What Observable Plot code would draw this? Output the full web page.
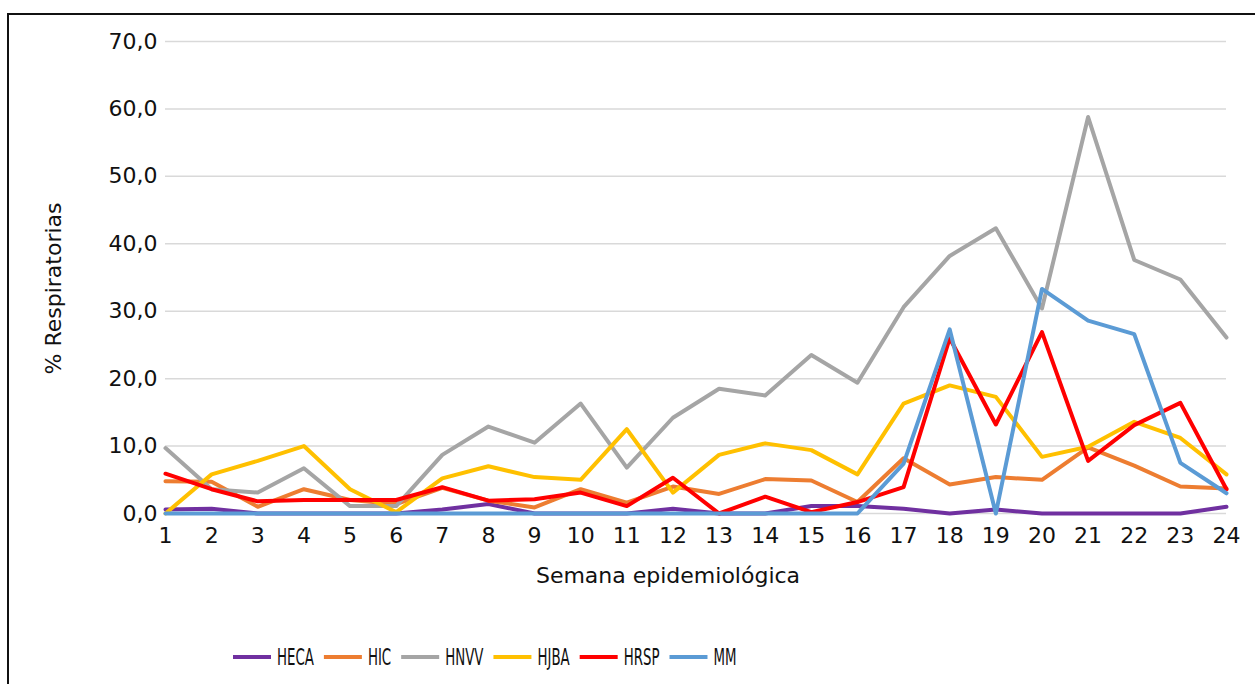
<!DOCTYPE html>
<html><head><meta charset="utf-8">
<script src="https://cdn.jsdelivr.net/npm/d3@7"></script>
<script src="https://cdn.jsdelivr.net/npm/@observablehq/plot@0.6"></script>
<style>
body{margin:0;background:#fff;font-family:"DejaVu Sans";}
#wrap{position:relative;width:1255px;height:684px;overflow:hidden;background:#fff;}
#chart{position:absolute;left:0;top:0;}
#legend{position:absolute;left:0;top:630px;}
#frame{position:absolute;left:7px;top:13px;width:1400px;height:800px;border-left:2px solid #111;border-top:2px solid #111;pointer-events:none;}
</style></head><body>
<div id="wrap"><div id="chart"></div><div id="legend"></div><div id="frame"></div></div>
<script>
const semanas = [1,2,3,4,5,6,7,8,9,10,11,12,13,14,15,16,17,18,19,20,21,22,23,24];
const yTicks = [0,10,20,30,40,50,60,70];
const seriesNames = ["HECA","HIC","HNVV","HJBA","HRSP","MM"];
const seriesColors = ["#7030A0","#ED7D31","#A5A5A5","#FFC000","#FF0000","#5B9BD5"];

const HECA = [0.6,0.7,0,0,0,0,0.6,1.4,0,0,0,0.7,0,0,1.1,1.1,0.7,0,0.6,0,0,0,0,1.0];
const HIC  = [4.8,4.7,1.0,3.6,2.0,1.4,3.8,1.9,0.9,3.6,1.6,4.0,2.9,5.1,4.9,1.7,8.2,4.3,5.4,5.0,9.8,7.1,4.0,3.7];
const HNVV = [9.7,3.6,3.1,6.7,1.1,1.1,8.7,12.9,10.5,16.3,6.8,14.2,18.5,17.5,23.5,19.4,30.6,38.2,42.3,30.4,58.8,37.6,34.7,26.1];
const HJBA = [0,5.8,7.8,10.0,3.6,0.2,5.2,7.0,5.4,5.0,12.5,3.1,8.7,10.4,9.4,5.8,16.3,19.0,17.3,8.4,9.9,13.6,11.2,5.8];
const HRSP = [5.9,3.6,1.8,2.0,2.0,2.0,3.9,1.9,2.1,3.1,1.1,5.3,0,2.5,0.2,1.7,3.9,26.0,13.2,26.9,7.8,13.1,16.4,3.6];
const MM   = [0,0,0,0,0,0,0,0,0,0,0,0,0,0,0,0,7.4,27.3,0,33.3,28.6,26.6,7.5,3.0];

const seriesValues = [HECA,HIC,HNVV,HJBA,HRSP,MM];
const rows = seriesNames.flatMap((s,i)=>semanas.map((w,j)=>({serie:s, semana:w, valor:seriesValues[i][j]})));

const fmtY = d => d.toFixed(1).replace(".", ",");

const plot = Plot.plot({
  width:1255, height:630,
  marginTop:41, marginBottom:117, marginLeft:165, marginRight:29,
  style:{fontFamily:"DejaVu Sans", fontSize:"22px", color:"#111", background:"transparent"},
  x:{domain:[1,24], label:null},
  y:{domain:[0,70], label:null},
  color:{domain:seriesNames, range:seriesColors},
  marks:[
    Plot.gridY(yTicks,{stroke:"#d9d9d9", strokeOpacity:1, strokeWidth:1.5}),
    Plot.axisX({ticks:semanas, tickSize:0, tickPadding:14, tickFormat:d=>String(d), label:null}),
    Plot.axisY({ticks:yTicks, tickSize:0, tickPadding:8, tickFormat:fmtY, label:null}),
    Plot.lineY(rows,{x:"semana", y:"valor", z:"serie", stroke:"serie", strokeWidth:4, strokeLinejoin:"round", strokeLinecap:"round"}),
    Plot.text(["Semana epidemiológica"],{frameAnchor:"bottom", text:d=>d, dx:-28, dy:62, lineAnchor:"middle", fontSize:22, fill:"#111"}),
    Plot.text(["% Respiratorias"],{frameAnchor:"left", text:d=>d, rotate:-90, textAnchor:"middle", dx:-112, dy:11, lineAnchor:"middle", fontSize:22, fill:"#111"})
  ]
});
document.getElementById("chart").appendChild(plot);

const legendSvg = d3.select("#legend").append("svg").attr("width",1255).attr("height",54).style("font-family","DejaVu Sans");
let lx = 233;
seriesNames.forEach((name,i)=>{
  legendSvg.append("line").attr("x1",lx).attr("x2",lx+38).attr("y1",27).attr("y2",27)
    .attr("stroke",seriesColors[i]).attr("stroke-width",4);
  lx += 38+6;
  const t = legendSvg.append("text").attr("x",0).attr("y",35).attr("font-size",23).attr("fill","#111")
    .attr("transform",`translate(${lx},0) scale(0.58,1)`).text(name);
  lx += t.node().getComputedTextLength()*0.58 + 10;
});
</script>
</body></html>
